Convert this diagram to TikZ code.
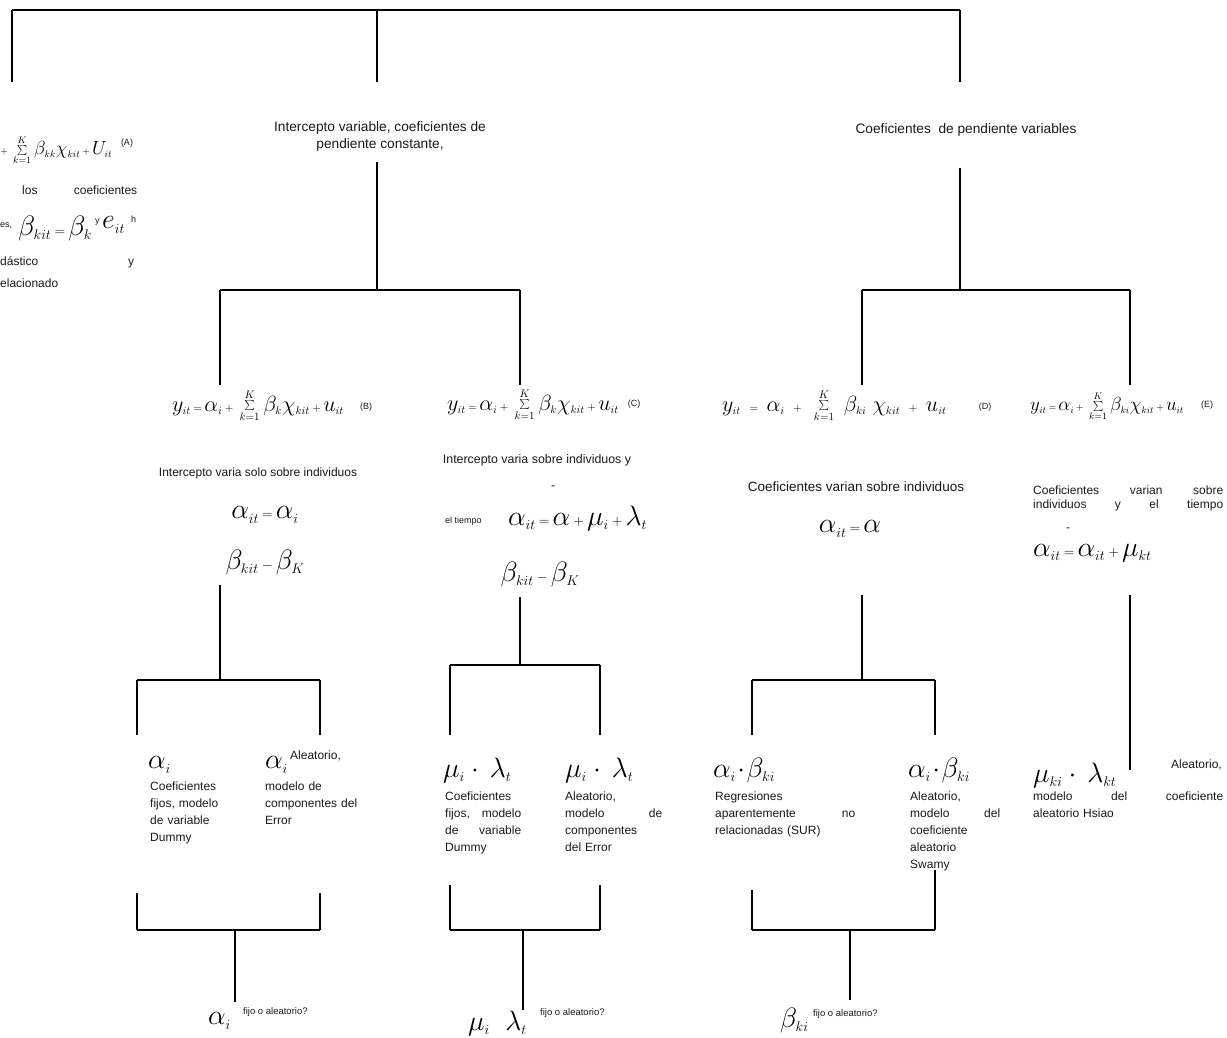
\RequirePackage{fix-cm}
\documentclass[tikz,border=0pt]{standalone}
\usepackage{fontspec}
\setmainfont{Liberation Sans}
\newcommand{\smtx}{\fontsize{12}{17}\selectfont}
\newcommand{\tinytx}{\fontsize{9}{11}\selectfont}
\newcommand{\eqtx}{\fontsize{22}{26}\selectfont}
\newcommand{\bigtx}{\fontsize{28}{32}\selectfont}
\newcommand{\tsub}[1]{_{\scriptscriptstyle #1}}
\newcommand{\tsum}{\sum\limits_{\scriptscriptstyle k=1}^{\scriptscriptstyle K}}
\newcommand{\teq}{\mkern2mu{\scriptscriptstyle=}\mkern2mu}
\newcommand{\tpl}{\mkern2mu{\scriptscriptstyle+}\mkern2mu}
\newcommand{\tmi}{\mkern2mu{\scriptscriptstyle-}\mkern2mu}
\begin{document}
\begin{tikzpicture}[x=1pt,y=-1pt,
  ln/.style={line width=1.7pt,black},
  tx/.style={font=\smtx,inner sep=0pt,text=black!90},
  tn/.style={font=\tinytx,inner sep=0pt,text=black!90},
  eq/.style={font=\eqtx,inner sep=0pt},
  bg/.style={font=\bigtx,inner sep=0pt},
  blk/.style={tx,anchor=north west,align=left}]
\useasboundingbox (0,0) rectangle (1227,1038);
\clip (0,0) rectangle (1227,1038);
% ---------- top bracket
\coordinate (T1) at (12,10); \coordinate (T2) at (377,10); \coordinate (T3) at (960,10);
\coordinate (T1b) at (12,82); \coordinate (T2b) at (377,82); \coordinate (T3b) at (960,82);
\draw[ln] (T1) -- (T3);
\draw[ln] (T1) -- (T1b); \draw[ln] (T2) -- (T2b); \draw[ln] (T3) -- (T3b);
% ---------- A (cut at left)
\node[eq,font=\fontsize{19}{23}\selectfont,anchor=west] (eqA) at (-2,150) {$\tpl\tsum\beta\tsub{kk}\chi\tsub{kit}\tpl U\tsub{it}$};
\node[tn] (labA) at (127,143) {(A)};
\node[tx,anchor=west,text width=115] (A2) at (22,190) {los\hfill coeficientes};
\node[tn,anchor=west] (A3a) at (0,226) {es,};
\node[bg,anchor=west] (A3b) at (18,228) {$\beta\tsub{kit}\teq\beta\tsub{k}$};
\node[tn,anchor=west] (A3c) at (95,222) {y};
\node[bg,anchor=west] (A3d) at (102,225) {$e\tsub{it}$};
\node[tn,anchor=west] (A3e) at (131,219) {h};
\node[tx,anchor=west,text width=134] (A4) at (0,262) {dástico\hfill y};
\node[tx,anchor=west] (A5) at (0,283) {elacionado};
% ---------- middle branch
\node[tx,align=center,font=\fontsize{13.7}{17}\selectfont] (mid) at (380,136) {Intercepto variable, coeficientes de\\pendiente constante,};
\coordinate (m1) at (377,162); \coordinate (m2) at (377,290);
\coordinate (mb1) at (220,290); \coordinate (mb2) at (520,290);
\coordinate (bBt) at (220,385); \coordinate (bCt) at (520,385);
\draw[ln] (m1) -- (m2); \draw[ln] (mb1) -- (mb2);
\draw[ln] (mb1) -- (bBt); \draw[ln] (mb2) -- (bCt);
% ---------- right branch
\node[tx,font=\fontsize{13.7}{17}\selectfont] (right) at (966,130) {Coeficientes\ \ de pendiente variables};
\coordinate (r1) at (960,168); \coordinate (r2) at (960,290);
\coordinate (rb1) at (862,290); \coordinate (rb2) at (1130,290);
\coordinate (bDt) at (862,385); \coordinate (bEt) at (1130,385);
\draw[ln] (r1) -- (r2); \draw[ln] (rb1) -- (rb2);
\draw[ln] (rb1) -- (bDt); \draw[ln] (rb2) -- (bEt);
% ========== column B
\node[eq,anchor=west] (eqB) at (172,406) {$y\tsub{it}\teq\alpha\tsub{i}\tpl\tsum\beta\tsub{k}\chi\tsub{kit}\tpl u\tsub{it}$};
\node[tn] (labB) at (366,407) {(B)};
\node[tx] (txB) at (258,473) {Intercepto varia solo sobre individuos};
\node[bg] (aB) at (265,515) {$\alpha\tsub{it}\teq\alpha\tsub{i}$};
\node[bg] (bB) at (265,562) {$\beta\tsub{kit}\tmi\beta\tsub{K}$};
\coordinate (B1) at (220,585); \coordinate (B2) at (220,680);
\coordinate (B3) at (137,680); \coordinate (B4) at (320,680);
\coordinate (B3b) at (137,735); \coordinate (B4b) at (320,735);
\draw[ln] (B1) -- (B2); \draw[ln] (B3) -- (B4);
\draw[ln] (B3) -- (B3b); \draw[ln] (B4) -- (B4b);
\node[bg,anchor=west] (lB1) at (148,765) {$\alpha\tsub{i}$};
\node[blk,text width=80] (tB1) at (150,782) {Coeficientes\\fijos, modelo\\de variable\\Dummy};
\node[bg,anchor=west] (lB2) at (265,765) {$\alpha\tsub{i}$};
\node[tx,anchor=west] (lB2t) at (290,756) {Aleatorio,};
\node[blk,text width=108] (tB2) at (265,782) {modelo de\\componentes del\\Error};
\coordinate (B5) at (137,893); \coordinate (B6) at (320,893);
\coordinate (B5b) at (137,930); \coordinate (B6b) at (320,930);
\coordinate (B7) at (235,930); \coordinate (B8) at (235,1002);
\draw[ln] (B5) -- (B5b); \draw[ln] (B6) -- (B6b); \draw[ln] (B5b) -- (B6b); \draw[ln] (B7) -- (B8);
\node[bg,anchor=west] (fB) at (208,1021) {$\alpha\tsub{i}$};
\node[tn,font=\fontsize{9.5}{11}\selectfont,anchor=west] (fBt) at (243,1012) {fijo o aleatorio?};
% ========== column C
\node[eq,anchor=west] (eqC) at (447,405) {$y\tsub{it}\teq\alpha\tsub{i}\tpl\tsum\beta\tsub{k}\chi\tsub{kit}\tpl u\tsub{it}$};
\node[tn] (labC) at (634,404) {(C)};
\node[tx,font=\fontsize{12.4}{17}\selectfont] (txC) at (537,460) {Intercepto varia sobre individuos y};
\node[tx] (barC) at (553,488) {-};
\node[tn,anchor=west] (tiC) at (445,521) {el tiempo};
\node[bg,anchor=west] (aC) at (508,518) {$\alpha\tsub{it}\teq\alpha\tpl\mu\tsub{i}\tpl\lambda\tsub{t}$};
\node[bg] (bC) at (540,574) {$\beta\tsub{kit}\tmi\beta\tsub{K}$};
\coordinate (C1) at (520,597); \coordinate (C2) at (520,665);
\coordinate (C3) at (450,665); \coordinate (C4) at (600,665);
\coordinate (C3b) at (450,735); \coordinate (C4b) at (600,735);
\draw[ln] (C1) -- (C2); \draw[ln] (C3) -- (C4);
\draw[ln] (C3) -- (C3b); \draw[ln] (C4) -- (C4b);
\node[bg,anchor=west] (lC1) at (443,770) {$\mu\tsub{i}\cdot\,\lambda\tsub{t}$};
\node[blk,text width=76] (tC1) at (445,792) {Coeficientes\\fijos,\hfill modelo\\de\hfill variable\\Dummy};
\node[bg,anchor=west] (lC2) at (565,770) {$\mu\tsub{i}\cdot\,\lambda\tsub{t}$};
\node[blk,text width=97] (tC2) at (565,792) {Aleatorio,\\modelo\hfill de\\componentes\\del Error};
\coordinate (C5) at (450,885); \coordinate (C6) at (600,885);
\coordinate (C5b) at (450,930); \coordinate (C6b) at (600,930);
\coordinate (C7) at (523,930); \coordinate (C8) at (523,1010);
\draw[ln] (C5) -- (C5b); \draw[ln] (C6) -- (C6b); \draw[ln] (C5b) -- (C6b); \draw[ln] (C7) -- (C8);
\node[bg,anchor=west] (fC) at (468,1023) {$\mu\tsub{i}\ \ \lambda\tsub{t}$};
\node[tn,font=\fontsize{9.5}{11}\selectfont,anchor=west] (fCt) at (540,1013) {fijo o aleatorio?};
% ========== column D
\node[eq,anchor=west] (eqD) at (722,406) {$y\tsub{it}\;\teq\;\alpha\tsub{i}\;\tpl\;\tsum\;\beta\tsub{ki}\;\chi\tsub{kit}\;\tpl\;u\tsub{it}$};
\node[tn] (labD) at (985,407) {(D)};
\node[tx,font=\fontsize{13.5}{17}\selectfont] (txD) at (856,487) {Coeficientes varian sobre individuos};
\node[bg] (aD) at (850,529) {$\alpha\tsub{it}\teq\alpha$};
\coordinate (D1) at (862,595); \coordinate (D2) at (862,680);
\coordinate (D3) at (752,680); \coordinate (D4) at (935,680);
\coordinate (D3b) at (752,735); \coordinate (D4b) at (935,735);
\draw[ln] (D1) -- (D2); \draw[ln] (D3) -- (D4);
\draw[ln] (D3) -- (D3b); \draw[ln] (D4) -- (D4b);
\node[bg,anchor=west] (lD1) at (713,770) {$\alpha\tsub{i}\!\cdot\!\beta\tsub{ki}$};
\node[blk,text width=140] (tD1) at (715,792) {Regresiones\\aparentemente\hfill no\\relacionadas (SUR)};
\node[bg,anchor=west] (lD2) at (908,770) {$\alpha\tsub{i}\!\cdot\!\beta\tsub{ki}$};
\node[blk,text width=90] (tD2) at (910,792) {Aleatorio,\\modelo\hfill del\\coeficiente\\aleatorio\\Swamy};
\coordinate (D5) at (752,890); \coordinate (D6) at (935,870);
\coordinate (D5b) at (752,930); \coordinate (D6b) at (935,930);
\coordinate (D7) at (850,930); \coordinate (D8) at (850,1000);
\draw[ln] (D5) -- (D5b); \draw[ln] (D6) -- (D6b); \draw[ln] (D5b) -- (D6b); \draw[ln] (D7) -- (D8);
\node[bg,anchor=west] (fD) at (780,1020) {$\beta\tsub{ki}$};
\node[tn,font=\fontsize{9.5}{11}\selectfont,anchor=west] (fDt) at (813,1014) {fijo o aleatorio?};
% ========== column E
\node[eq,font=\fontsize{19}{23}\selectfont,anchor=west] (eqE) at (1030,406) {$y\tsub{it}\teq\alpha\tsub{i}\tpl\tsum\beta\tsub{ki}\chi\tsub{kit}\tpl u\tsub{it}$};
\node[tn] (labE) at (1207,405) {(E)};
\node[blk,text width=190,font=\fontsize{12}{14}\selectfont] (txE) at (1033,486) {Coeficientes\hfill varian\hfill sobre\\individuos\hfill y\hfill el\hfill tiempo};
\node[tx] (barE) at (1068,530) {-};
\node[bg,anchor=west] (aE) at (1033,553) {$\alpha\tsub{it}\teq\alpha\tsub{it}\tpl\mu\tsub{kt}$};
\coordinate (E1) at (1130,595); \coordinate (E2) at (1130,770);
\draw[ln] (E1) -- (E2);
\node[bg,anchor=west] (lE) at (1033,775) {$\mu\tsub{ki}\cdot\,\lambda\tsub{kt}$};
\node[tx,anchor=east] (lEt) at (1222,765) {Aleatorio,};
\node[blk,text width=190] (tE) at (1033,792) {modelo\hfill del\hfill coeficiente\\aleatorio Hsiao};
\end{tikzpicture}
\end{document}
